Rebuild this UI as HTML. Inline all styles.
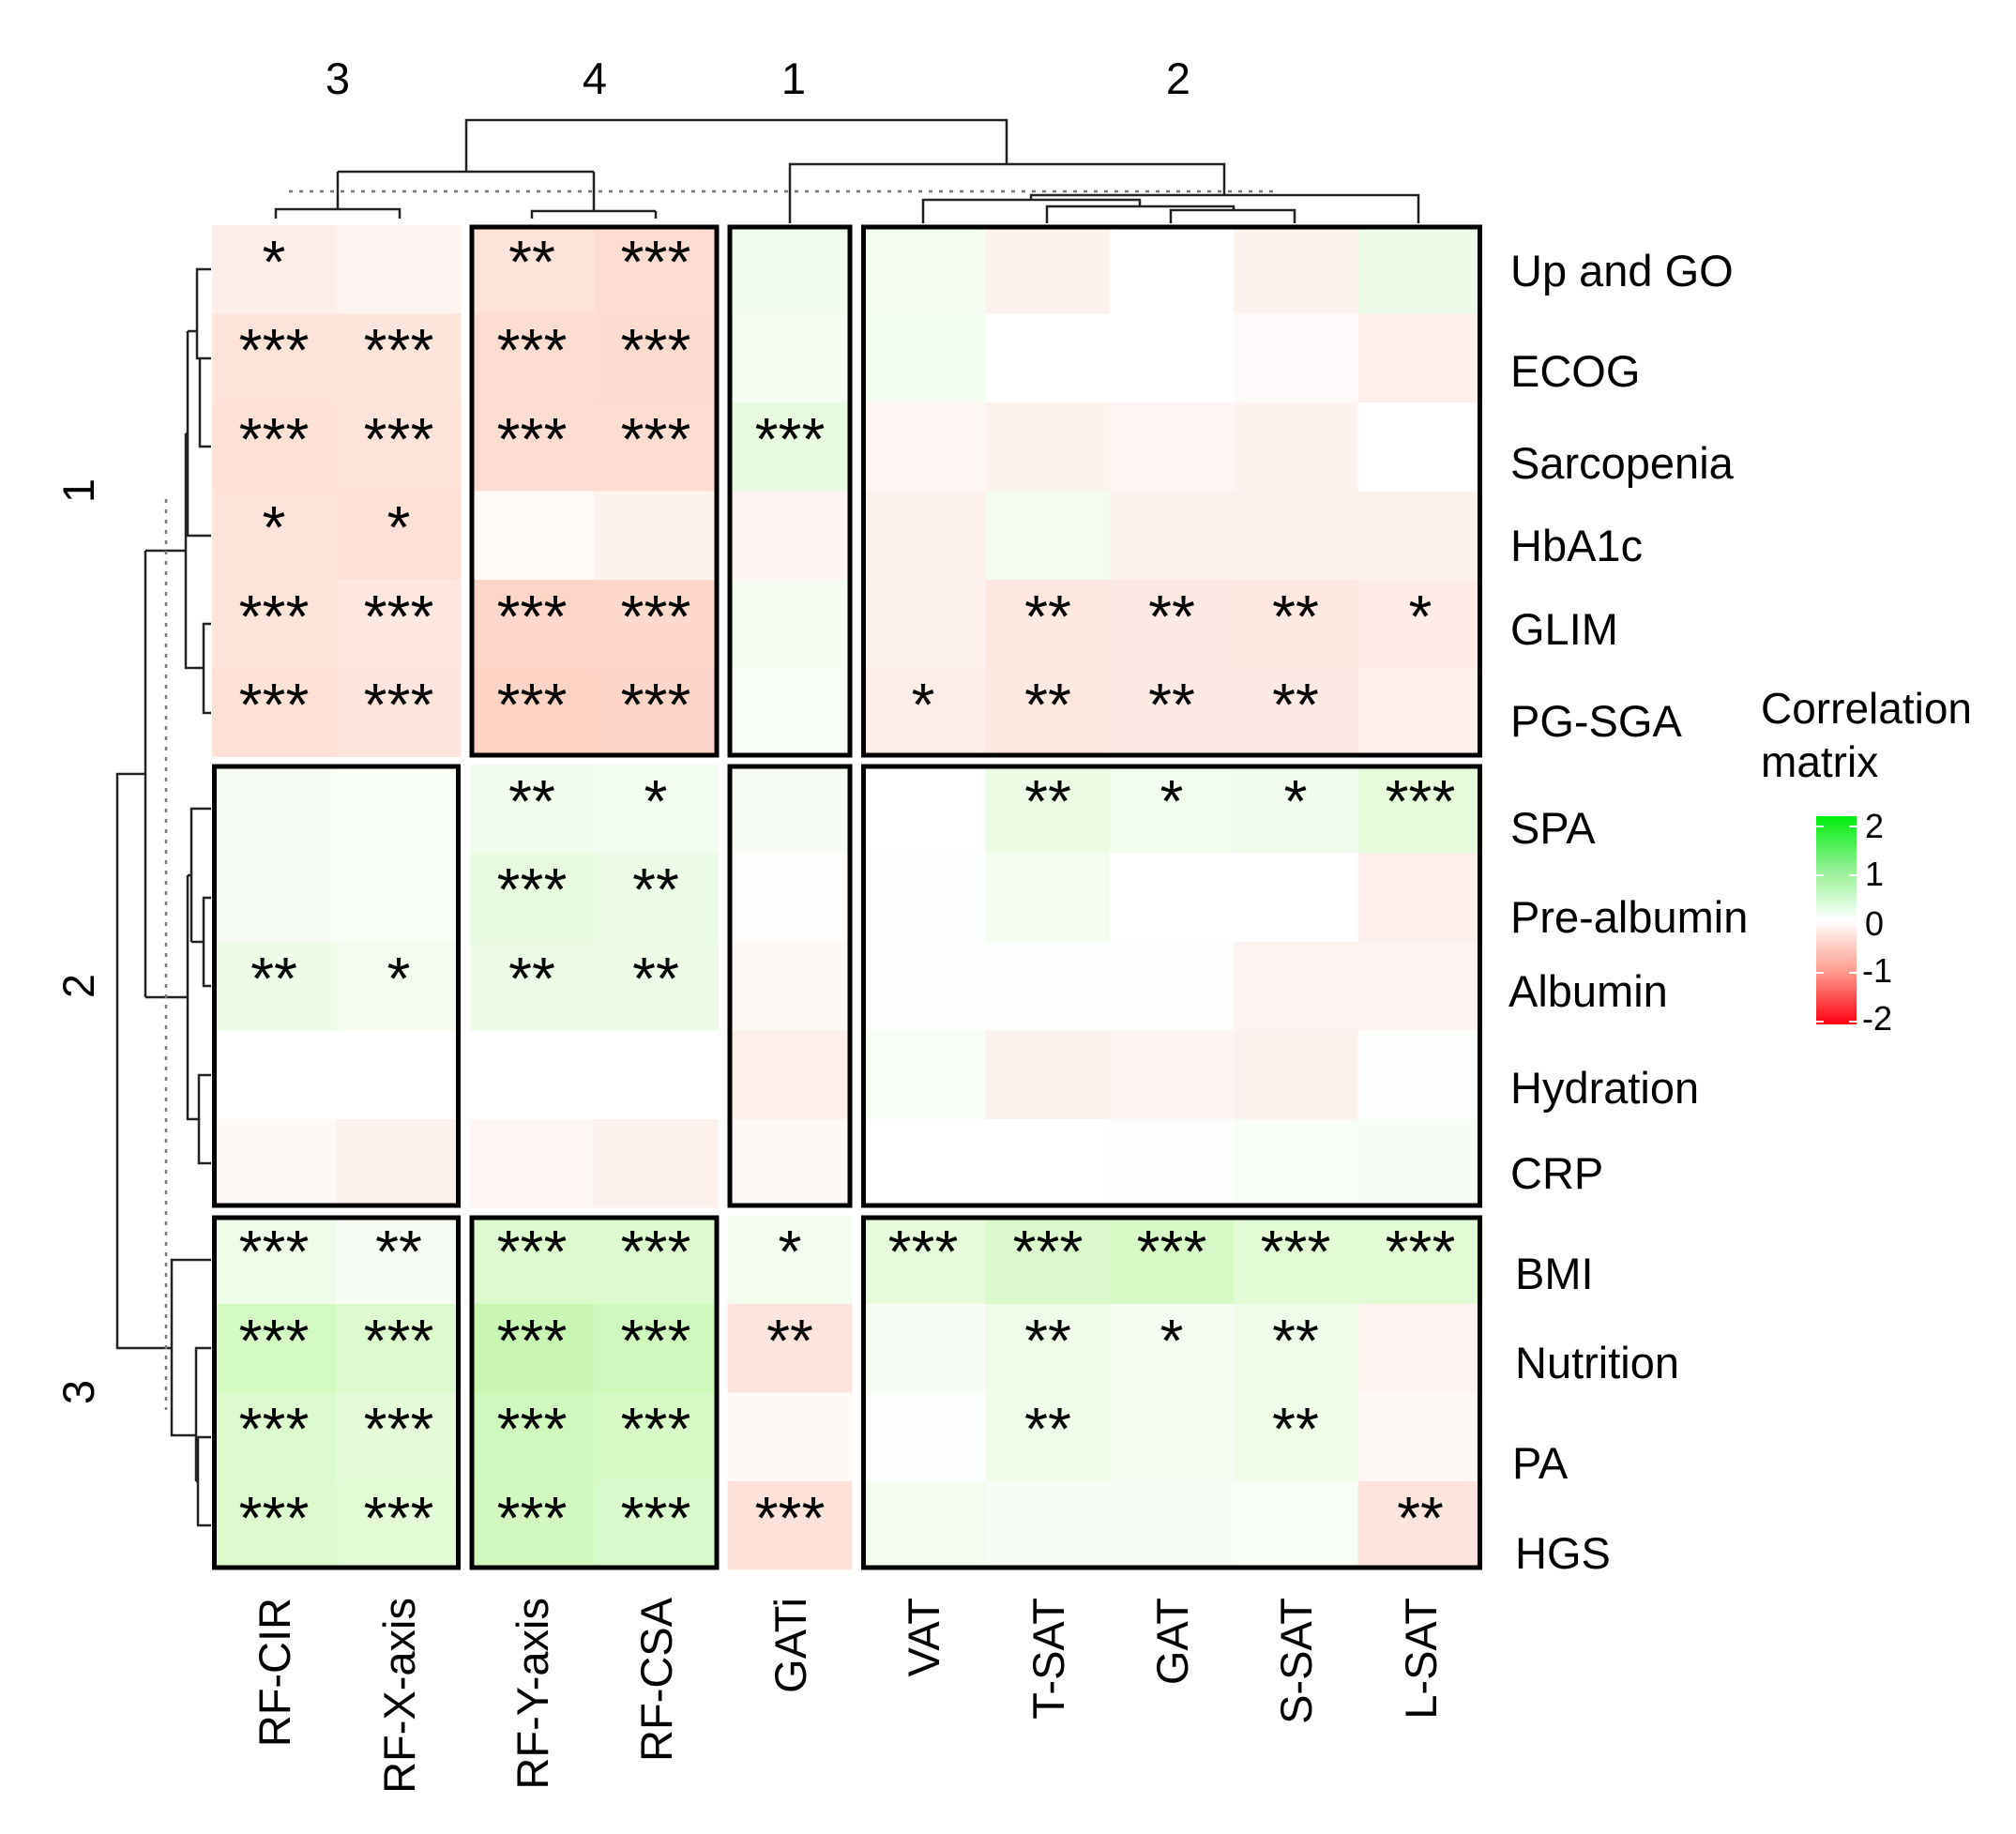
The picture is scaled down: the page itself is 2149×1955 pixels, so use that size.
<!DOCTYPE html>
<html><head><meta charset="utf-8"><style>
html,body{margin:0;padding:0;background:#fff}
svg{display:block}
text{font-family:"Liberation Sans",Arial,sans-serif}
</style></head><body>
<svg width="2149" height="1955" viewBox="0 0 2149 1955" xmlns="http://www.w3.org/2000/svg">
<defs>
<linearGradient id="cb" x1="0" y1="0" x2="0" y2="1">
<stop offset="0" stop-color="#00ee10"/><stop offset="0.25" stop-color="#8ff08f"/><stop offset="0.5" stop-color="#ffffff"/><stop offset="0.75" stop-color="#ff9a8a"/><stop offset="1" stop-color="#ff0010"/>
</linearGradient>
</defs>
<g shape-rendering="crispEdges">
<g transform="translate(0,240)">
<rect x="226" width="133" height="95" fill="#fdeee9"/><rect x="358.4" width="133" height="95" fill="#fdf3f0"/><rect x="500.8" width="133" height="95" fill="#fde3da"/><rect x="633.2" width="133" height="95" fill="#fddcd2"/><rect x="775.6" width="133" height="95" fill="#f2fcee"/><rect x="918" width="133" height="95" fill="#f5fdf2"/><rect x="1050.4" width="133" height="95" fill="#fdf1ee"/><rect x="1182.8" width="133" height="95" fill="#ffffff"/><rect x="1315.2" width="133" height="95" fill="#fdf1ee"/><rect x="1447.6" width="133" height="95" fill="#eefbe8"/></g>
<g transform="translate(0,334.5)">
<rect x="226" width="133" height="95" fill="#fde3da"/><rect x="358.4" width="133" height="95" fill="#fde5dc"/><rect x="500.8" width="133" height="95" fill="#fddcd1"/><rect x="633.2" width="133" height="95" fill="#fddbd0"/><rect x="775.6" width="133" height="95" fill="#f5fdf2"/><rect x="918" width="133" height="95" fill="#f3fdf0"/><rect x="1050.4" width="133" height="95" fill="#ffffff"/><rect x="1182.8" width="133" height="95" fill="#ffffff"/><rect x="1315.2" width="133" height="95" fill="#fffafa"/><rect x="1447.6" width="133" height="95" fill="#fdf0ec"/></g>
<g transform="translate(0,429)">
<rect x="226" width="133" height="95" fill="#fde0d6"/><rect x="358.4" width="133" height="95" fill="#fde3da"/><rect x="500.8" width="133" height="95" fill="#fddcd2"/><rect x="633.2" width="133" height="95" fill="#fddcd2"/><rect x="775.6" width="133" height="95" fill="#e8fbe0"/><rect x="918" width="133" height="95" fill="#fff7f5"/><rect x="1050.4" width="133" height="95" fill="#fdf2ee"/><rect x="1182.8" width="133" height="95" fill="#fef6f4"/><rect x="1315.2" width="133" height="95" fill="#fdf2ee"/><rect x="1447.6" width="133" height="95" fill="#ffffff"/></g>
<g transform="translate(0,523.5)">
<rect x="226" width="133" height="95" fill="#fde3da"/><rect x="358.4" width="133" height="95" fill="#fde0d6"/><rect x="500.8" width="133" height="95" fill="#fffaf8"/><rect x="633.2" width="133" height="95" fill="#fef2ee"/><rect x="775.6" width="133" height="95" fill="#fef5f3"/><rect x="918" width="133" height="95" fill="#fdf1ed"/><rect x="1050.4" width="133" height="95" fill="#f4fcf0"/><rect x="1182.8" width="133" height="95" fill="#fdf1ed"/><rect x="1315.2" width="133" height="95" fill="#fdf1ed"/><rect x="1447.6" width="133" height="95" fill="#fdf1ed"/></g>
<g transform="translate(0,618)">
<rect x="226" width="133" height="95" fill="#fde3da"/><rect x="358.4" width="133" height="95" fill="#fde7e0"/><rect x="500.8" width="133" height="95" fill="#fdd6c9"/><rect x="633.2" width="133" height="95" fill="#fdd8cc"/><rect x="775.6" width="133" height="95" fill="#f5fdf2"/><rect x="918" width="133" height="95" fill="#fdf2ee"/><rect x="1050.4" width="133" height="95" fill="#fde8e1"/><rect x="1182.8" width="133" height="95" fill="#fde9e3"/><rect x="1315.2" width="133" height="95" fill="#fde8e1"/><rect x="1447.6" width="133" height="95" fill="#fdece6"/></g>
<g transform="translate(0,712.5)">
<rect x="226" width="133" height="94.5" fill="#fde0d6"/><rect x="358.4" width="133" height="94.5" fill="#fde5dd"/><rect x="500.8" width="133" height="94.5" fill="#fdd3c5"/><rect x="633.2" width="133" height="94.5" fill="#fdd5c8"/><rect x="775.6" width="133" height="94.5" fill="#f9fef7"/><rect x="918" width="133" height="94.5" fill="#fdede8"/><rect x="1050.4" width="133" height="94.5" fill="#fde8e1"/><rect x="1182.8" width="133" height="94.5" fill="#fde9e3"/><rect x="1315.2" width="133" height="94.5" fill="#fde9e3"/><rect x="1447.6" width="133" height="94.5" fill="#fdf0ec"/></g>
<g transform="translate(0,815)">
<rect x="226" width="133" height="95" fill="#f7fdf4"/><rect x="358.4" width="133" height="95" fill="#f8fdf6"/><rect x="500.8" width="133" height="95" fill="#f1fcec"/><rect x="633.2" width="133" height="95" fill="#f3fdef"/><rect x="775.6" width="133" height="95" fill="#f7fdf5"/><rect x="918" width="133" height="95" fill="#ffffff"/><rect x="1050.4" width="133" height="95" fill="#ecfbe4"/><rect x="1182.8" width="133" height="95" fill="#f3fdef"/><rect x="1315.2" width="133" height="95" fill="#f2fcee"/><rect x="1447.6" width="133" height="95" fill="#e6fbdc"/></g>
<g transform="translate(0,909.5)">
<rect x="226" width="133" height="95" fill="#f7fdf4"/><rect x="358.4" width="133" height="95" fill="#f8fdf6"/><rect x="500.8" width="133" height="95" fill="#e8fbe0"/><rect x="633.2" width="133" height="95" fill="#ecfbe5"/><rect x="775.6" width="133" height="95" fill="#fffdfc"/><rect x="918" width="133" height="95" fill="#fdfffc"/><rect x="1050.4" width="133" height="95" fill="#f5fdf3"/><rect x="1182.8" width="133" height="95" fill="#ffffff"/><rect x="1315.2" width="133" height="95" fill="#ffffff"/><rect x="1447.6" width="133" height="95" fill="#fdf0ec"/></g>
<g transform="translate(0,1004)">
<rect x="226" width="133" height="95" fill="#eefbe7"/><rect x="358.4" width="133" height="95" fill="#f3fcef"/><rect x="500.8" width="133" height="95" fill="#ecfbe5"/><rect x="633.2" width="133" height="95" fill="#eefbe7"/><rect x="775.6" width="133" height="95" fill="#fef8f7"/><rect x="918" width="133" height="95" fill="#fefefe"/><rect x="1050.4" width="133" height="95" fill="#fcfefb"/><rect x="1182.8" width="133" height="95" fill="#fefdfc"/><rect x="1315.2" width="133" height="95" fill="#fdf4f1"/><rect x="1447.6" width="133" height="95" fill="#fdf3f0"/></g>
<g transform="translate(0,1098.5)">
<rect x="226" width="133" height="95" fill="#ffffff"/><rect x="358.4" width="133" height="95" fill="#ffffff"/><rect x="500.8" width="133" height="95" fill="#fefffe"/><rect x="633.2" width="133" height="95" fill="#ffffff"/><rect x="775.6" width="133" height="95" fill="#fdefea"/><rect x="918" width="133" height="95" fill="#f8fdf6"/><rect x="1050.4" width="133" height="95" fill="#fdf1ed"/><rect x="1182.8" width="133" height="95" fill="#fef5f2"/><rect x="1315.2" width="133" height="95" fill="#fdf1ed"/><rect x="1447.6" width="133" height="95" fill="#fcfefb"/></g>
<g transform="translate(0,1193)">
<rect x="226" width="133" height="94.5" fill="#fef8f6"/><rect x="358.4" width="133" height="94.5" fill="#fdf1ed"/><rect x="500.8" width="133" height="94.5" fill="#fef6f4"/><rect x="633.2" width="133" height="94.5" fill="#fdf1ed"/><rect x="775.6" width="133" height="94.5" fill="#fef8f6"/><rect x="918" width="133" height="94.5" fill="#ffffff"/><rect x="1050.4" width="133" height="94.5" fill="#ffffff"/><rect x="1182.8" width="133" height="94.5" fill="#fdfefc"/><rect x="1315.2" width="133" height="94.5" fill="#f8fdf6"/><rect x="1447.6" width="133" height="94.5" fill="#f7fdf4"/></g>
<g transform="translate(0,1295.5)">
<rect x="226" width="133" height="95" fill="#f0fcea"/><rect x="358.4" width="133" height="95" fill="#f7fdf4"/><rect x="500.8" width="133" height="95" fill="#dcfacd"/><rect x="633.2" width="133" height="95" fill="#dcfacd"/><rect x="775.6" width="133" height="95" fill="#f3fcef"/><rect x="918" width="133" height="95" fill="#e6fbdc"/><rect x="1050.4" width="133" height="95" fill="#dcf9cd"/><rect x="1182.8" width="133" height="95" fill="#d7f9c7"/><rect x="1315.2" width="133" height="95" fill="#e2fad6"/><rect x="1447.6" width="133" height="95" fill="#e2fad6"/></g>
<g transform="translate(0,1390)">
<rect x="226" width="133" height="95" fill="#d4f9c3"/><rect x="358.4" width="133" height="95" fill="#dcfacd"/><rect x="500.8" width="133" height="95" fill="#c8f7b3"/><rect x="633.2" width="133" height="95" fill="#cff8bc"/><rect x="775.6" width="133" height="95" fill="#fde5dd"/><rect x="918" width="133" height="95" fill="#f7fdf4"/><rect x="1050.4" width="133" height="95" fill="#effcea"/><rect x="1182.8" width="133" height="95" fill="#f5fdf2"/><rect x="1315.2" width="133" height="95" fill="#effcea"/><rect x="1447.6" width="133" height="95" fill="#fdf4f1"/></g>
<g transform="translate(0,1484.5)">
<rect x="226" width="133" height="95" fill="#dcfacd"/><rect x="358.4" width="133" height="95" fill="#e4fad8"/><rect x="500.8" width="133" height="95" fill="#cff8bc"/><rect x="633.2" width="133" height="95" fill="#d6f9c6"/><rect x="775.6" width="133" height="95" fill="#fef8f6"/><rect x="918" width="133" height="95" fill="#fbfefa"/><rect x="1050.4" width="133" height="95" fill="#effcea"/><rect x="1182.8" width="133" height="95" fill="#f6fdf3"/><rect x="1315.2" width="133" height="95" fill="#eefce8"/><rect x="1447.6" width="133" height="95" fill="#fef8f6"/></g>
<g transform="translate(0,1579)">
<rect x="226" width="133" height="94.5" fill="#dcfacd"/><rect x="358.4" width="133" height="94.5" fill="#e2fad6"/><rect x="500.8" width="133" height="94.5" fill="#d2f8c0"/><rect x="633.2" width="133" height="94.5" fill="#d8f9c9"/><rect x="775.6" width="133" height="94.5" fill="#fde2d9"/><rect x="918" width="133" height="94.5" fill="#f3fcef"/><rect x="1050.4" width="133" height="94.5" fill="#f7fdf4"/><rect x="1182.8" width="133" height="94.5" fill="#f7fdf4"/><rect x="1315.2" width="133" height="94.5" fill="#f8fdf6"/><rect x="1447.6" width="133" height="94.5" fill="#fde5dd"/></g>
<rect x="491.4" y="230" width="9.4" height="1450" fill="#fff"/>
<rect x="766.2" y="230" width="9.4" height="1450" fill="#fff"/>
<rect x="908.6" y="230" width="9.4" height="1450" fill="#fff"/>
<rect x="220" y="807" width="1365" height="8" fill="#fff"/>
<rect x="220" y="1287.5" width="1365" height="8" fill="#fff"/>
</g>
<g fill="none" stroke="#000" stroke-width="5">
<rect x="503" y="242" width="261" height="563"/>
<rect x="778" y="242" width="128" height="563"/>
<rect x="920.5" y="242" width="657" height="563"/>
<rect x="228.5" y="817" width="260" height="468"/>
<rect x="778" y="817" width="128" height="468"/>
<rect x="920.5" y="817" width="657" height="468"/>
<rect x="228.5" y="1298" width="260" height="373"/>
<rect x="503" y="1298" width="261" height="373"/>
<rect x="920.5" y="1298" width="657" height="373"/>
</g>
<g font-size="64" text-anchor="middle" fill="#000" transform="translate(0,-9)">
<text x="292" y="310">*</text><text x="567" y="310">**</text><text x="699" y="310">***</text>
<text x="292" y="404">***</text><text x="425" y="404">***</text><text x="567" y="404">***</text><text x="699" y="404">***</text>
<text x="292" y="499">***</text><text x="425" y="499">***</text><text x="567" y="499">***</text><text x="699" y="499">***</text><text x="842" y="499">***</text>
<text x="292" y="593">*</text><text x="425" y="593">*</text>
<text x="292" y="688">***</text><text x="425" y="688">***</text><text x="567" y="688">***</text><text x="699" y="688">***</text><text x="1117" y="688">**</text><text x="1249" y="688">**</text><text x="1381" y="688">**</text><text x="1514" y="688">*</text>
<text x="292" y="782">***</text><text x="425" y="782">***</text><text x="567" y="782">***</text><text x="699" y="782">***</text><text x="984" y="782">*</text><text x="1117" y="782">**</text><text x="1249" y="782">**</text><text x="1381" y="782">**</text>
<text x="567" y="885">**</text><text x="699" y="885">*</text><text x="1117" y="885">**</text><text x="1249" y="885">*</text><text x="1381" y="885">*</text><text x="1514" y="885">***</text>
<text x="567" y="979">***</text><text x="699" y="979">**</text>
<text x="292" y="1074">**</text><text x="425" y="1074">*</text><text x="567" y="1074">**</text><text x="699" y="1074">**</text>
<text x="292" y="1365">***</text><text x="425" y="1365">**</text><text x="567" y="1365">***</text><text x="699" y="1365">***</text><text x="842" y="1365">*</text><text x="984" y="1365">***</text><text x="1117" y="1365">***</text><text x="1249" y="1365">***</text><text x="1381" y="1365">***</text><text x="1514" y="1365">***</text>
<text x="292" y="1460">***</text><text x="425" y="1460">***</text><text x="567" y="1460">***</text><text x="699" y="1460">***</text><text x="842" y="1460">**</text><text x="1117" y="1460">**</text><text x="1249" y="1460">*</text><text x="1381" y="1460">**</text>
<text x="292" y="1554">***</text><text x="425" y="1554">***</text><text x="567" y="1554">***</text><text x="699" y="1554">***</text><text x="1117" y="1554">**</text><text x="1381" y="1554">**</text>
<text x="292" y="1649">***</text><text x="425" y="1649">***</text><text x="567" y="1649">***</text><text x="699" y="1649">***</text><text x="842" y="1649">***</text><text x="1514" y="1649">**</text>
</g>
<g fill="none" stroke="#222" stroke-width="2.5">
<path d="M294,233V223H426V233M360,223V183"/>
<path d="M567,233V225H699V225M567,225V233M699,225V233M633,225V183"/>
<path d="M360,183H633M497,183V128H1073V175"/>
<path d="M842,238V175H1305V208"/>
<path d="M1099,213V208H1512V238"/>
<path d="M984,238V213H1215V220"/>
<path d="M1116,238V220H1315V224"/>
<path d="M1248,238V224H1380V238"/>
</g>
<line x1="308" y1="204" x2="1358" y2="204" stroke="#777" stroke-width="2.5" stroke-dasharray="4,7"/>
<g fill="none" stroke="#222" stroke-width="2.5">
<path d="M225,287H210V382H213M225,382H213V476H225M210,353H200"/>
<path d="M200,353V571H225M200,462H198"/>
<path d="M225,665H217V760H225M217,712H198V462M198,587H155"/>
<path d="M225,862H204V1004M225,957H217V1051H225M217,1004H204M204,933H200"/>
<path d="M225,1146H212V1240H225M212,1193H200V933M200,1063H155"/>
<path d="M155,587V1063M155,825H125V1437H183"/>
<path d="M225,1343H183V1530H209M225,1437H209V1579M225,1532H211V1626H225M211,1579H209"/>
</g>
<line x1="177" y1="532" x2="177" y2="1503" stroke="#777" stroke-width="2.5" stroke-dasharray="4,7"/>
<g font-size="47" fill="#000" text-anchor="middle">
<text x="360" y="100">3</text><text x="634" y="100">4</text><text x="846" y="100">1</text><text x="1256" y="100">2</text>
<text transform="translate(100,523) rotate(-90)">1</text>
<text transform="translate(100,1051) rotate(-90)">2</text>
<text transform="translate(100,1484) rotate(-90)">3</text>
</g>
<g font-size="47" fill="#000">
<text x="1610" y="305">Up and GO</text>
<text x="1610" y="412">ECOG</text>
<text x="1610" y="510">Sarcopenia</text>
<text x="1610" y="598">HbA1c</text>
<text x="1610" y="687">GLIM</text>
<text x="1610" y="785">PG-SGA</text>
<text x="1610" y="899">SPA</text>
<text x="1610" y="994">Pre-albumin</text>
<text x="1608" y="1073">Albumin</text>
<text x="1610" y="1176">Hydration</text>
<text x="1610" y="1267">CRP</text>
<text x="1615" y="1374">BMI</text>
<text x="1615" y="1469">Nutrition</text>
<text x="1612" y="1576">PA</text>
<text x="1615" y="1672">HGS</text>
</g>
<g font-size="47" fill="#000" text-anchor="end">
<text transform="translate(309,1703) rotate(-90)">RF-CIR</text>
<text transform="translate(442,1703) rotate(-90)">RF-X-axis</text>
<text transform="translate(584,1703) rotate(-90)">RF-Y-axis</text>
<text transform="translate(716,1703) rotate(-90)">RF-CSA</text>
<text transform="translate(859,1703) rotate(-90)">GATi</text>
<text transform="translate(1001,1703) rotate(-90)">VAT</text>
<text transform="translate(1134,1703) rotate(-90)">T-SAT</text>
<text transform="translate(1266,1703) rotate(-90)">GAT</text>
<text transform="translate(1398,1703) rotate(-90)">S-SAT</text>
<text transform="translate(1531,1703) rotate(-90)">L-SAT</text>
</g>
<g font-size="46" fill="#000">
<text x="1877" y="771">Correlation</text>
<text x="1877" y="828">matrix</text>
</g>
<rect x="1936" y="870" width="43" height="222" fill="url(#cb)"/>
<g stroke="#fff" stroke-width="2">
<path d="M1936,881h8M1971,881h8M1936,933h8M1971,933h8M1936,985h8M1971,985h8M1936,1037h8M1971,1037h8M1936,1089h8M1971,1089h8"/>
</g>
<g font-size="36" fill="#000">
<text x="1988" y="893">2</text>
<text x="1988" y="944">1</text>
<text x="1988" y="997">0</text>
<text x="1985" y="1047">-1</text>
<text x="1985" y="1098">-2</text>
</g>
</svg>
</body></html>
